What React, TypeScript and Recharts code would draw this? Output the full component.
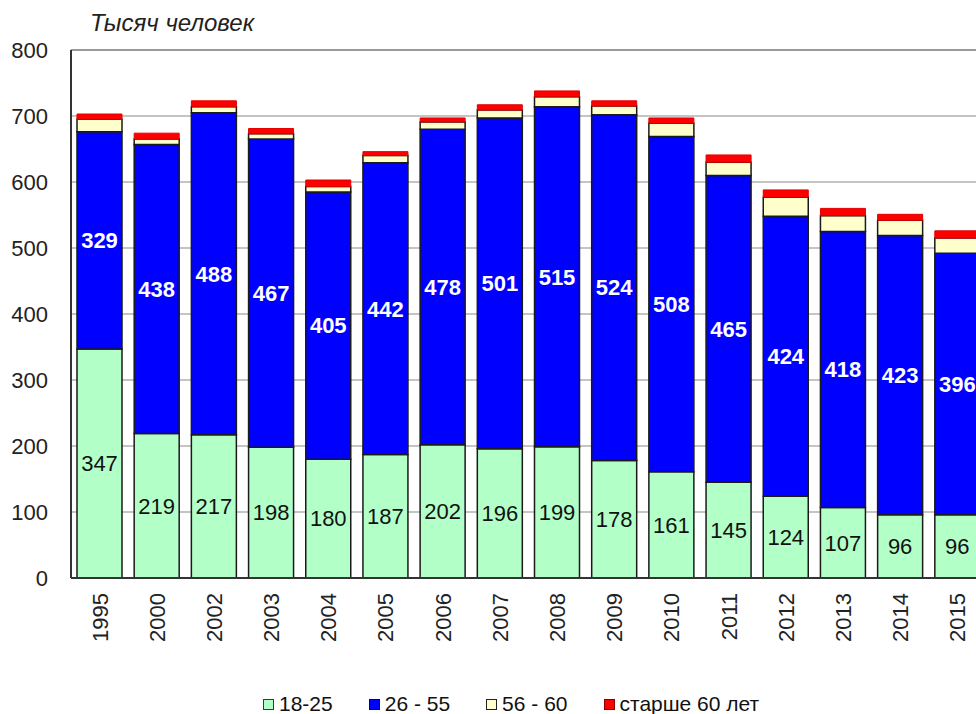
import React from "react";
import {
  BarChart,
  Bar,
  XAxis,
  YAxis,
  CartesianGrid,
  Legend,
  LabelList,
  ReferenceLine,
} from "recharts";

const years = ["1995", "2000", "2002", "2003", "2004", "2005", "2006", "2007", "2008", "2009", "2010", "2011", "2012", "2013", "2014", "2015"];
const age18to25 = [347, 219, 217, 198, 180, 187, 202, 196, 199, 178, 161, 145, 124, 107, 96, 96];
const age26to55 = [329, 438, 488, 467, 405, 442, 478, 501, 515, 524, 508, 465, 424, 418, 423, 396];
const age56to60 = [19, 8, 9, 8, 8, 11, 11, 12, 15, 13, 20, 20, 29, 24, 23, 23];
const age60plus = [8, 9, 9, 8, 10, 6, 6, 8, 9, 8, 8, 11, 11, 11, 9, 11];
const yTicks = [0, 100, 200, 300, 400, 500, 600, 700, 800];

const data = years.map((year, i) => ({
  year,
  a: age18to25[i],
  b: age26to55[i],
  c: age56to60[i],
  d: age60plus[i],
}));

const FONT = '"Liberation Sans", Arial, sans-serif';

const legendItems = [
  { label: "18-25", fill: "#b3ffc8", border: "#1e4a2a" },
  { label: "26 - 55", fill: "#0000ff", border: "#00007a" },
  { label: "56 - 60", fill: "#ffffcc", border: "#222" },
  { label: "старше 60 лет", fill: "#ff0000", border: "#8a0000" },
];

function YearTick(props: any) {
  const { x, y, payload } = props;
  return (
    <text
      x={x}
      y={y}
      transform={`rotate(-90 ${x} ${y})`}
      textAnchor="end"
      dy="0.36em"
      fontSize={22}
      fontFamily={FONT}
      fill="#222"
    >
      {payload.value}
    </text>
  );
}

function LegendBox() {
  return (
    <div style={{ display: "flex", gap: 36, height: 20, alignItems: "center", fontFamily: FONT, fontSize: 21, color: "#111" }}>
      {legendItems.map((it) => (
        <div key={it.label} style={{ display: "flex", alignItems: "center", gap: 5 }}>
          <span style={{ width: 9, height: 9, background: it.fill, border: `1.5px solid ${it.border}`, display: "inline-block" }} />
          <span>{it.label}</span>
        </div>
      ))}
    </div>
  );
}

export default function App() {
  return (
    <div style={{ position: "absolute", left: 0, top: 0, width: 976, height: 714, overflow: "hidden", background: "#fff" }}>
      <div
        style={{
          position: "absolute",
          left: 90,
          top: 11,
          fontFamily: FONT,
          fontStyle: "italic",
          fontSize: 24,
          lineHeight: "24px",
          color: "#222",
          zIndex: 2,
        }}
      >
        Тысяч человек
      </div>
      <BarChart
        width={1000}
        height={714}
        data={data}
        margin={{ top: 50, right: 14, left: 0, bottom: 0 }}
        barSize={45}
      >
        <CartesianGrid vertical={false} stroke="#c4c4c4" strokeWidth={2} />
        <ReferenceLine y={800} stroke="#9a9a9a" strokeWidth={2} />
        <XAxis
          dataKey="year"
          height={116}
          interval={0}
          tick={<YearTick />}
          tickLine={false}
          tickSize={0}
          tickMargin={15}
          axisLine={{ stroke: "#333", strokeWidth: 2 }}
        />
        <YAxis
          width={71}
          domain={[0, 800]}
          ticks={yTicks}
          interval={0}
          tickLine={false}
          tickSize={0}
          tickMargin={23}
          axisLine={{ stroke: "#333", strokeWidth: 2 }}
          tick={{ fill: "#222", fontSize: 22, fontFamily: FONT }}
        />
        <Legend
          verticalAlign="bottom"
          content={<LegendBox />}
          wrapperStyle={{ left: 263, width: "auto" }}
        />
        <Bar dataKey="a" stackId="s" fill="#b3ffc8" stroke="#1a1a1a" strokeWidth={1.5} isAnimationActive={false}>
          <LabelList dataKey="a" position="center" fill="#111" fontSize={22} fontFamily={FONT} />
        </Bar>
        <Bar dataKey="b" stackId="s" fill="#0000ff" stroke="#1a1a1a" strokeWidth={1.5} isAnimationActive={false}>
          <LabelList dataKey="b" position="center" fill="#fff" fontSize={22} fontWeight="bold" fontFamily={FONT} />
        </Bar>
        <Bar dataKey="c" stackId="s" fill="#ffffcc" stroke="#1a1a1a" strokeWidth={1.5} isAnimationActive={false} />
        <Bar dataKey="d" stackId="s" fill="#ff0000" stroke="#e00000" strokeWidth={1} isAnimationActive={false} />
      </BarChart>
    </div>
  );
}
